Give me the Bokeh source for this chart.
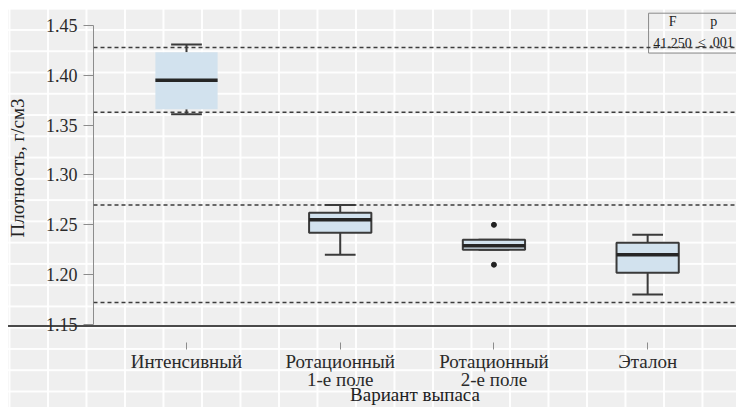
from bokeh.plotting import figure
from bokeh.models import (ColumnDataSource, Range1d, FixedTicker, Span,
                          InlineStyleSheet, NumeralTickFormatter)
from bokeh.core.properties import value
from bokeh.embed import file_html
from bokeh.resources import INLINE

# ---- data ----
categories = ["Интенсивный", "Ротационный\n1-е поле", "Ротационный\n2-е поле", "Эталон"]
whisker_low = [1.361, 1.220, 1.225, 1.180]
q1 = [1.366, 1.242, 1.225, 1.202]
median = [1.395, 1.255, 1.229, 1.220]
q3 = [1.423, 1.262, 1.235, 1.232]
whisker_high = [1.431, 1.270, 1.235, 1.240]
outlier_group = [3, 3]
outlier_value = [1.250, 1.210]
ref_lines = [1.428, 1.363, 1.270, 1.172]
y_ticks = [1.15, 1.20, 1.25, 1.30, 1.35, 1.40, 1.45]
table_header = ["F", "p"]
table_values = ["41.250", "≤ .001"]
x_title = "Вариант выпаса"
y_title = "Плотность, г/см3"

SERIF = "Liberation Serif"
FONT = value(SERIF)
pos = [i + 1 for i in range(len(categories))]
box_w = 0.405
cap_w = 0.2
X0, X1 = 0.395, 4.578

css = InlineStyleSheet(css="""
:host {
  background-color: #efefef;
  background-image:
    linear-gradient(#ffffff, #ffffff),
    linear-gradient(#ffffff, #ffffff),
    linear-gradient(to bottom, transparent 325px, #4a4a4a 325px, #4a4a4a 327px, transparent 327px),
    linear-gradient(to right, rgba(255,255,255,0.95) 2px, transparent 2px),
    linear-gradient(to bottom, rgba(255,255,255,0.95) 2px, transparent 2px);
  background-size: 100% 9px, 8px 100%, 100% 100%, 38.5px 100%, 100% 21.27px;
  background-position: 0 0, 0 0, 0 0, 47px 0, 0 29px;
  background-repeat: no-repeat, no-repeat, no-repeat, repeat, repeat;
}
""")

p = figure(width=736, height=407, output_backend="svg", toolbar_location=None,
           x_range=Range1d(X0, X1), y_range=Range1d(1.148, 1.466),
           min_border_left=93, min_border_right=0, min_border_top=9,
           min_border_bottom=80, outline_line_color=None,
           background_fill_color=None, border_fill_color=None,
           stylesheets=[css])
p.xgrid.grid_line_color = None
p.ygrid.grid_line_color = None

# reference dashed lines
for v in ref_lines:
    p.add_layout(Span(location=v, dimension="width", line_color="#3c3c3c",
                      line_dash="4 3", line_width=1.5))

src = ColumnDataSource(dict(
    x=pos, lo=whisker_low, q1=q1, med=median, q3=q3, hi=whisker_high,
    left=[x - box_w / 2 for x in pos], right=[x + box_w / 2 for x in pos],
    cl=[x - cap_w / 2 for x in pos], cr=[x + cap_w / 2 for x in pos],
    la=[0.0, 1.0, 1.0, 1.0],
))

# whiskers
p.segment(x0="x", y0="q3", x1="x", y1="hi", source=src, line_color="#3a3a3a", line_width=2)
p.segment(x0="x", y0="q1", x1="x", y1="lo", source=src, line_color="#3a3a3a", line_width=2)
p.segment(x0="cl", y0="hi", x1="cr", y1="hi", source=src, line_color="#3a3a3a", line_width=2)
p.segment(x0="cl", y0="lo", x1="cr", y1="lo", source=src, line_color="#3a3a3a", line_width=2)
# boxes
p.quad(left="left", right="right", bottom="q1", top="q3", source=src,
       fill_color="#d2e2ee", line_color="#3a3a3a", line_width=2, line_alpha="la")
# medians
p.segment(x0="left", y0="med", x1="right", y1="med", source=src,
          line_color="#262626", line_width=3.5)
# outliers
p.scatter(outlier_group, outlier_value, size=5, color="#222222")

# ANOVA table
p.quad(left=[4.006], right=[4.9], bottom=[1.4223], top=[1.4623],
       fill_color=None, line_color="#8a8a8a", line_width=1)
p.text(x=[4.162, 4.43], y=[1.4535, 1.4535], text=table_header, text_font=FONT,
       text_font_size="14px", text_align="center", text_baseline="middle", text_color="#222")
p.text(x=[4.162, 4.328], y=[1.4325, 1.4325], text=table_values, text_font=FONT,
       text_font_size="14px", text_align=["center", "left"], text_baseline="middle",
       text_color="#222")

# axes
p.yaxis.bounds = (1.15, 1.45)
p.yaxis.ticker = FixedTicker(ticks=y_ticks)
p.yaxis.formatter = NumeralTickFormatter(format="0.00")
p.yaxis.minor_tick_line_color = None
p.yaxis.major_tick_in = 0
p.yaxis.major_tick_out = 10
p.yaxis.major_tick_line_color = "#8c8c8c"
p.yaxis.axis_line_color = "#8c8c8c"
p.yaxis.major_label_standoff = 6
p.yaxis.major_label_text_font = SERIF
p.yaxis.major_label_text_font_size = "18px"
p.yaxis.major_label_text_color = "#2a2a2a"
p.yaxis.axis_label = y_title
p.yaxis.axis_label_text_font = SERIF
p.yaxis.axis_label_text_font_size = "19px"
p.yaxis.axis_label_text_font_style = "normal"
p.yaxis.axis_label_text_color = "#222222"
p.yaxis.axis_label_standoff = 15

p.xaxis.ticker = FixedTicker(ticks=pos)
p.xaxis.major_label_overrides = {x: c for x, c in zip(pos, categories)}
p.xaxis.minor_tick_line_color = None
p.xaxis.major_tick_in = -16
p.xaxis.major_tick_out = 23
p.xaxis.major_tick_line_color = "#8c8c8c"
p.xaxis.axis_line_color = None
p.xaxis.major_label_standoff = 1
p.xaxis.major_label_text_font = SERIF
p.xaxis.major_label_text_font_size = "19px"
p.xaxis.major_label_text_line_height = 0.86
p.xaxis.major_label_text_color = "#2a2a2a"
p.xaxis.axis_label = x_title
p.xaxis.axis_label_text_font = SERIF
p.xaxis.axis_label_text_font_size = "19px"
p.xaxis.axis_label_text_font_style = "normal"
p.xaxis.axis_label_text_color = "#222222"
p.xaxis.axis_label_standoff = -9

open("out.html", "w").write(file_html(p, INLINE))
